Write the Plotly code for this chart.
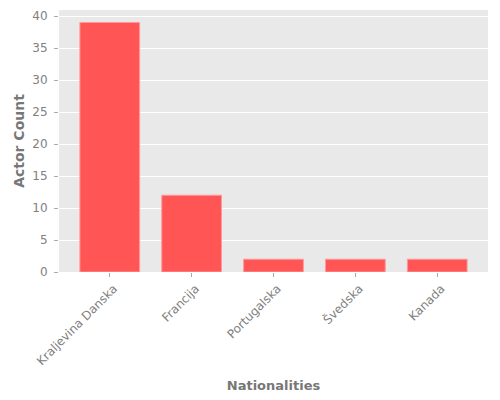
import plotly.graph_objects as go

NATIONALITIES = ["Kraljevina Danska", "Francija", "Portugalska", "Švedska", "Kanada"]
ACTOR_COUNTS = [39, 12, 2, 2, 2]

fig = go.Figure(
    go.Bar(
        x=NATIONALITIES,
        y=ACTOR_COUNTS,
        width=0.73,
        marker=dict(color="#FF5555", line=dict(color="#FF9A9A", width=1)),
    )
)

# the page body adds 8px on top/left, so margins are shifted to compensate
fig.update_layout(
    width=500,
    height=400,
    margin=dict(l=51, r=20, t=2, b=136),
    paper_bgcolor="white",
    plot_bgcolor="#E9E9E9",
    font=dict(family="DejaVu Sans", size=12, color="#808080"),
    showlegend=False,
)
fig.update_xaxes(
    title=dict(text="<b>Nationalities</b>", font=dict(size=13, color="#777777"), standoff=13),
    range=[-0.62, 4.62],
    tickangle=-45,
    ticks="outside",
    ticklen=4,
    tickcolor="#AAAAAA",
    ticklabelshift=4,
    showgrid=False,
    automargin=False,
)
fig.update_yaxes(
    title=dict(text="<b>Actor Count</b>", font=dict(size=14, color="#777777"), standoff=4),
    range=[0, 40.95],
    ticks="outside",
    ticklen=4,
    tickcolor="#AAAAAA",
    ticklabelstandoff=4,
    dtick=5,
    gridcolor="white",
    zeroline=False,
    automargin=False,
)

fig.write_html("out.html")
